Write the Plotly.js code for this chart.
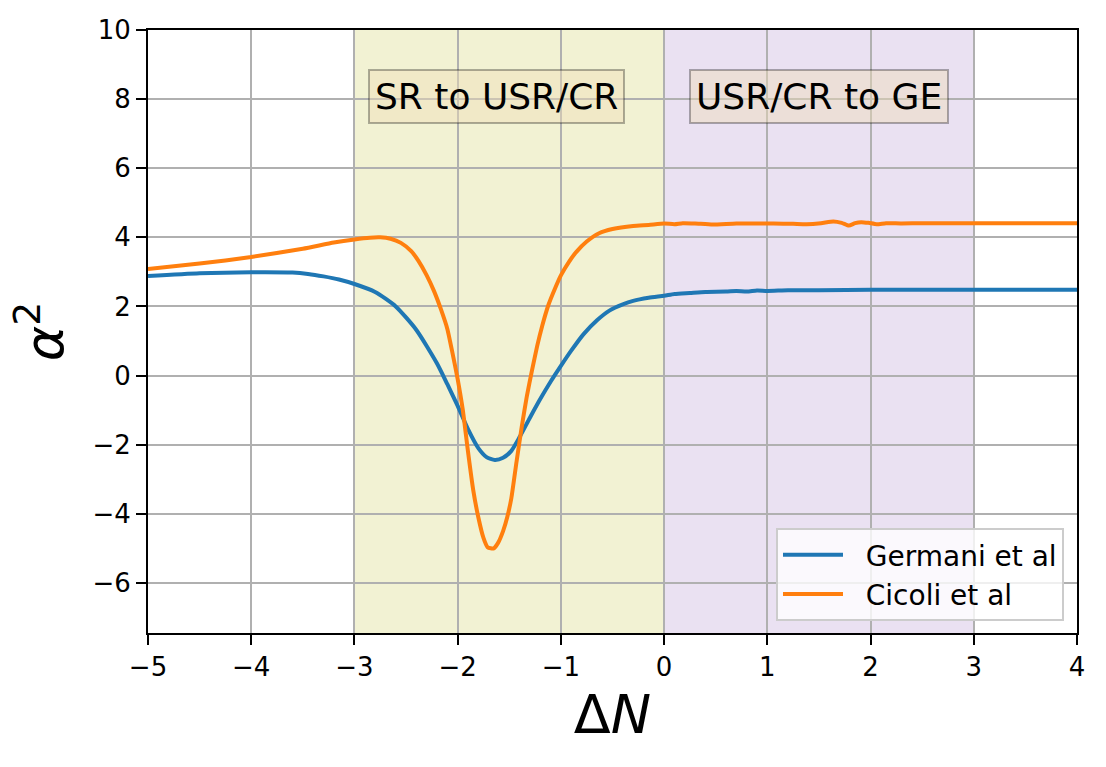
<!DOCTYPE html>
<html>
<head>
<meta charset="utf-8">
<script src="https://cdn.plot.ly/plotly-3.0.1.min.js"></script>
<style>
  html, body { margin: 0; padding: 0; background: #fff; }
  #chart { width: 1106px; height: 767px; }
</style>
</head>
<body>
<div id="chart"></div>
<script>
// alpha^2 vs Delta N
var germaniN = [-5, -4.5, -4, -3.6, -3.45, -3.3, -3.15, -3, -2.8, -2.6, -2.4, -2.2, -2.1, -2, -1.9, -1.8, -1.72,
  -1.64, -1.56, -1.48, -1.4, -1.3, -1.2, -1.1, -1, -0.9, -0.78, -0.65, -0.53, -0.4, -0.3, -0.15,
  0, 0.1, 0.25, 0.4, 0.6, 0.7, 0.8, 0.9, 1, 1.2, 1.5, 2, 3, 4];
var germaniA2 = [2.88, 2.96, 2.99, 2.98, 2.94, 2.87, 2.78, 2.65, 2.42, 2.0, 1.32, 0.35, -0.25, -0.88, -1.55, -2.1, -2.36,
  -2.44, -2.38, -2.18, -1.78, -1.22, -0.68, -0.18, 0.28, 0.72, 1.2, 1.6, 1.88, 2.06, 2.16, 2.25,
  2.31, 2.36, 2.39, 2.42, 2.43, 2.45, 2.43, 2.46, 2.45, 2.47, 2.47, 2.48, 2.48, 2.48];

var cicoliN = [-5, -4.5, -4, -3.5, -3.2, -3, -2.85, -2.75, -2.65, -2.55, -2.45, -2.38, -2.3, -2.23,
  -2.16, -2.1, -2.05, -2, -1.95, -1.9, -1.85, -1.8, -1.75, -1.71, -1.68, -1.65, -1.61, -1.56,
  -1.52, -1.48, -1.43, -1.38, -1.33, -1.28, -1.23, -1.18, -1.12, -1.06, -1, -0.92, -0.85, -0.75, -0.63,
  -0.5, -0.3, -0.15, 0, 0.1, 0.18, 0.3, 0.47, 0.7, 1.06, 1.25, 1.38, 1.52, 1.64, 1.72, 1.79,
  1.85, 1.91, 1.98, 2.06, 2.15, 2.3, 2.5, 3, 3.5, 4];
var cicoliA2 = [3.08, 3.24, 3.43, 3.67, 3.85, 3.94, 3.99, 4.0, 3.96, 3.84, 3.6, 3.32, 2.9, 2.45,
  1.9, 1.35, 0.65, -0.1, -1.0, -2.2, -3.3, -4.1, -4.7, -4.97, -5.0, -5.0, -4.85, -4.5,
  -4.1, -3.55, -2.5, -1.5, -0.6, 0.15, 0.85, 1.45, 2.05, 2.5, 2.9, 3.3, 3.58, 3.88, 4.12,
  4.24, 4.33, 4.36, 4.4, 4.38, 4.41, 4.4, 4.37, 4.4, 4.4, 4.39, 4.38, 4.41, 4.46, 4.42, 4.34,
  4.41, 4.44, 4.42, 4.38, 4.41, 4.4, 4.41, 4.41, 4.41, 4.41];

var phaseLabels = ['SR to USR/CR', 'USR/CR to GE'];
var phaseStart = [-3, 0];
var phaseEnd = [0, 3];

var fontFam = 'DejaVu Sans, sans-serif';

var data = [
  {
    x: germaniN, y: germaniA2, type: 'scatter', mode: 'lines', name: '&nbsp;&nbsp;Germani et al',
    line: {color: '#1f77b4', width: 4, shape: 'spline', smoothing: 0.6}
  },
  {
    x: cicoliN, y: cicoliA2, type: 'scatter', mode: 'lines', name: '&nbsp;&nbsp;Cicoli et al',
    line: {color: '#ff7f0e', width: 4, shape: 'spline', smoothing: 0.5}
  }
];

var layout = {
  width: 1106,
  height: 767,
  margin: {l: 148, r: 29, t: 30, b: 134},
  paper_bgcolor: '#ffffff',
  plot_bgcolor: '#ffffff',
  font: {family: fontFam, color: '#000', size: 26},
  showlegend: true,
  legend: {
    x: 0.986, y: 0.02, xanchor: 'right', yanchor: 'bottom',
    bgcolor: 'rgba(255,255,255,0.8)', bordercolor: '#cccccc', borderwidth: 2,
    font: {family: fontFam, size: 28}, itemwidth: 60
  },
  xaxis: {
    range: [-5, 4], dtick: 1, tick0: -5,
    showline: true, mirror: true, linecolor: '#000', linewidth: 2,
    ticks: 'outside', ticklen: 10, tickwidth: 2, tickcolor: '#000',
    showgrid: true, gridcolor: '#b0b0b0', gridwidth: 2, zeroline: false,
    tickfont: {family: fontFam, size: 26},
    title: {text: 'Δ<i>N</i>', font: {family: fontFam, size: 54}, standoff: 14}
  },
  yaxis: {
    range: [-7.45, 10], tickvals: [-6, -4, -2, 0, 2, 4, 6, 8, 10],
    showline: true, mirror: true, linecolor: '#000', linewidth: 2,
    ticks: 'outside', ticklen: 10, tickwidth: 2, tickcolor: '#000',
    showgrid: true, gridcolor: '#b0b0b0', gridwidth: 2, zeroline: false,
    tickfont: {family: fontFam, size: 26},
    title: {text: '<i>α</i><sup>2</sup>', font: {family: fontFam, size: 54}, standoff: 12}
  },
  shapes: [
    {type: 'rect', xref: 'x', yref: 'paper', x0: phaseStart[0], x1: phaseEnd[0], y0: 0, y1: 1,
      fillcolor: 'rgba(188,189,34,0.2)', line: {width: 0}, layer: 'below'},
    {type: 'rect', xref: 'x', yref: 'paper', x0: phaseStart[1], x1: phaseEnd[1], y0: 0, y1: 1,
      fillcolor: 'rgba(148,103,189,0.2)', line: {width: 0}, layer: 'below'}
  ],
  annotations: [
    {x: -1.62, y: 8.08, xref: 'x', yref: 'y', text: phaseLabels[0], showarrow: false,
      font: {family: fontFam, size: 36}, bgcolor: 'rgba(240,222,185,0.45)',
      bordercolor: 'rgba(0,0,0,0.3)', borderwidth: 2, borderpad: 5},
    {x: 1.5, y: 8.08, xref: 'x', yref: 'y', text: phaseLabels[1], showarrow: false,
      font: {family: fontFam, size: 36}, bgcolor: 'rgba(240,222,185,0.45)',
      bordercolor: 'rgba(0,0,0,0.3)', borderwidth: 2, borderpad: 5}
  ]
};

Plotly.newPlot('chart', data, layout, {displayModeBar: false, staticPlot: true});
</script>
</body>
</html>
